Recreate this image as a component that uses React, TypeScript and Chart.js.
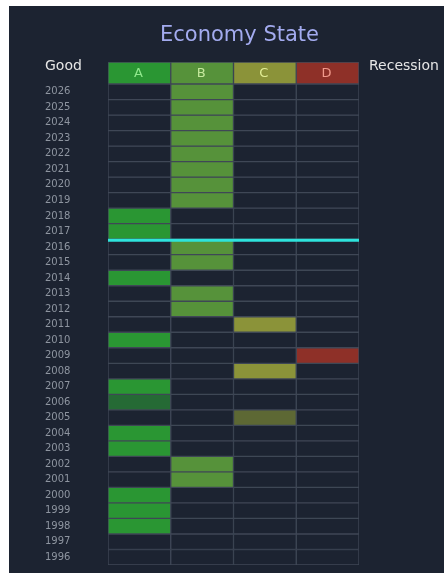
import React, { useEffect, useRef } from "react";
import { Chart, registerables } from "chart.js";

Chart.register(...registerables);

const columns = ["A", "B", "C", "D"];
const years = [
  2026, 2025, 2024, 2023, 2022, 2021, 2020, 2019, 2018, 2017, 2016, 2015, 2014, 2013, 2012, 2011,
  2010, 2009, 2008, 2007, 2006, 2005, 2004, 2003, 2002, 2001, 2000, 1999, 1998, 1997, 1996,
];
const states = [
  "B", "B", "B", "B", "B", "B", "B", "B", "A", "A", "B", "B", "A", "B", "B", "C",
  "A", "D", "C", "A", "A", "C", "A", "A", "B", "B", "A", "A", "A", "", "",
];
const weakYears = [2006, 2005];
const markerBoundary = 2016.5;
const headerSpan = 1.42;

const stateColors: Record<string, string> = { A: "#2a9633", B: "#56923a", C: "#8b9339", D: "#8e3028" };
const weakColors: Record<string, string> = { A: "#256a35", B: "#3f6a33", C: "#5d6834", D: "#6a2a26" };
const headerTextColors = ["#90e88c", "#c4e89c", "#e2ee96", "#f29a8c"];
const bg = "#1c2331";
const cellBorder = "#3f4756";

export default function App() {
  const ref = useRef<HTMLCanvasElement>(null);

  useEffect(() => {
    if (!ref.current) return;
    const yearSets = years.map((yr, i) => ({
      label: String(yr),
      data: columns.map(() => [yr - 0.5, yr + 0.5]),
      backgroundColor: columns.map((c) =>
        states[i] === c ? (weakYears.includes(yr) ? weakColors[c] : stateColors[c]) : bg
      ),
      borderColor: cellBorder,
      borderWidth: 1,
      borderSkipped: false,
      grouped: false,
      barPercentage: 1,
      categoryPercentage: 1,
    }));
    const headerSet = {
      label: "header",
      data: columns.map(() => [2026.5, 2026.5 + headerSpan]),
      backgroundColor: columns.map((c) => stateColors[c]),
      borderColor: cellBorder,
      borderWidth: 1,
      borderSkipped: false,
      grouped: false,
      barPercentage: 1,
      categoryPercentage: 1,
    };

    const textPlugin = {
      id: "texts",
      afterDraw(chart: any) {
        const ctx = chart.ctx;
        const ca = chart.chartArea;
        ctx.save();
        const yPix = chart.scales.y.getPixelForValue(markerBoundary);
        ctx.strokeStyle = "#2ee3dc";
        ctx.lineWidth = 3;
        ctx.beginPath();
        ctx.moveTo(ca.left, yPix + 1);
        ctx.lineTo(ca.right, yPix + 1);
        ctx.stroke();
        const meta = chart.getDatasetMeta(chart.data.datasets.length - 1);
        ctx.font = "13px 'DejaVu Sans'";
        ctx.textAlign = "center";
        ctx.textBaseline = "middle";
        meta.data.forEach((el: any, i: number) => {
          ctx.fillStyle = headerTextColors[i];
          ctx.fillText(columns[i], el.x - 1, (el.y + el.base) / 2 + 0.5);
        });
        ctx.fillStyle = "#a3abef";
        ctx.font = "21px 'DejaVu Sans'";
        ctx.textBaseline = "alphabetic";
        ctx.fillText("Economy State", 230.5, 35);
        ctx.fillStyle = "#e6e6e6";
        ctx.font = "14px 'DejaVu Sans'";
        ctx.textAlign = "left";
        ctx.fillText("Good", 36, 63.5);
        ctx.fillText("Recession", 360, 63.5);
        ctx.restore();
      },
    };

    const chart = new Chart(ref.current, {
      type: "bar",
      data: { labels: columns, datasets: [...yearSets, headerSet] as any },
      options: {
        animation: false,
        responsive: false,
        layout: { padding: { top: 56, bottom: 8, left: 36, right: 85 } },
        plugins: { legend: { display: false }, tooltip: { enabled: false }, title: { display: false } },
        scales: {
          x: { display: false, offset: true },
          y: {
            type: "linear",
            min: 1995.5,
            max: 2026.5 + headerSpan,
            afterFit: (s: any) => {
              s.width = 63;
            },
            afterBuildTicks: (s: any) => {
              s.ticks = years.map((v) => ({ value: v }));
            },
            grid: { display: false, drawTicks: false },
            border: { display: false },
            ticks: {
              padding: 0,
              crossAlign: "far",
              color: "#8e95a0",
              font: { family: "'DejaVu Sans'", size: 10 },
              callback: (v: any) => String(v),
              autoSkip: false,
            },
          },
        },
      } as any,
      plugins: [textPlugin],
    });
    return () => chart.destroy();
  }, []);

  return (
    <div style={{ position: "absolute", left: 9, top: 6, width: 435, height: 567, background: bg }}>
      <canvas ref={ref} width={435} height={567} style={{ display: "block" }} />
    </div>
  );
}
